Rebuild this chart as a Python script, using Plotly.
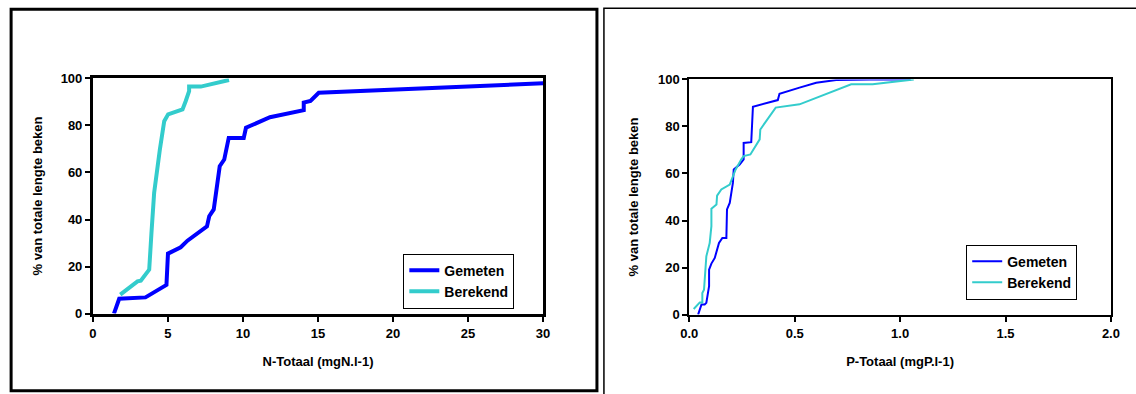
import plotly.graph_objects as go

W, H = 1136, 394
# The captured page (with the 8px body margin) is slightly larger than the window;
# map reference pixel positions into figure coordinates accordingly.
SX, SY, OFF = 1152 / 1136, 410 / 394, 8

# Left chart: N-Totaal
n_gemeten_x = [1.4, 1.75, 3.5, 4.9, 5.0, 5.85, 6.3, 7.6, 7.75, 8.05, 8.45, 8.75, 9.05, 10.05, 10.2, 11.8, 14.05, 14.05, 14.5, 15.05, 30]
n_gemeten_y = [0, 6.3, 6.9, 12.2, 25.5, 28.2, 31, 37.1, 41.4, 44.3, 62.7, 65.5, 74.7, 74.7, 79, 83.5, 86.5, 89.7, 90.4, 93.9, 97.9]
n_berekend_x = [1.82, 2.97, 3.19, 3.64, 3.75, 3.9, 4.08, 4.46, 4.68, 4.75, 5.01, 5.97, 6.18, 6.41, 6.41, 7.19, 9.07]
n_berekend_y = [8.1, 13.7, 14.0, 18, 18.7, 34.3, 51.4, 69.8, 77.6, 81.8, 84.7, 86.8, 90.3, 94.6, 96.5, 96.5, 99.3]

# Right chart: P-Totaal
p_gemeten_x = [0.042, 0.058, 0.073, 0.081, 0.094, 0.094, 0.105, 0.121, 0.141, 0.157, 0.176, 0.179, 0.192, 0.207, 0.211, 0.239, 0.258, 0.258, 0.294, 0.302, 0.42, 0.428, 0.523, 0.602, 0.697, 0.854, 1.05]
p_gemeten_y = [0, 4.3, 4.3, 5.0, 12.1, 19.1, 21.7, 24.1, 30.5, 32.6, 32.6, 44.7, 47.5, 56, 61.7, 63.8, 66, 73, 73.3, 88.4, 91.2, 93.9, 96.5, 98.6, 99.7, 100, 100]
p_berekend_x = [0.021, 0.05, 0.062, 0.062, 0.07, 0.078, 0.081, 0.097, 0.105, 0.105, 0.129, 0.132, 0.152, 0.192, 0.22, 0.247, 0.258, 0.29, 0.334, 0.337, 0.41, 0.523, 0.768, 0.87, 1.065]
p_berekend_y = [2.4, 5.2, 5.2, 9.2, 10.6, 19.1, 24.8, 30.5, 37.6, 45, 46.8, 50.6, 53.2, 55.3, 61.7, 66, 67.4, 68.1, 74.5, 78.7, 88, 89.4, 97.9, 97.9, 100]

y_ticks = [0, 20, 40, 60, 80, 100]
n_ticks = [0, 5, 10, 15, 20, 25, 30]
p_ticks = [0.0, 0.5, 1.0, 1.5, 2.0]

BLUE = "#0000FF"
CYAN = "#33CCCC"
FONT = "Liberation Sans"

fig = go.Figure()
fig.add_trace(go.Scatter(x=n_gemeten_x, y=n_gemeten_y, mode="lines", name="<b>Gemeten</b>",
                         line=dict(color=BLUE, width=4), xaxis="x", yaxis="y", legend="legend"))
fig.add_trace(go.Scatter(x=n_berekend_x, y=n_berekend_y, mode="lines", name="<b>Berekend</b>",
                         line=dict(color=CYAN, width=4), xaxis="x", yaxis="y", legend="legend"))
fig.add_trace(go.Scatter(x=p_gemeten_x, y=p_gemeten_y, mode="lines", name="<b>Gemeten</b>",
                         line=dict(color=BLUE, width=2), xaxis="x2", yaxis="y2", legend="legend2"))
fig.add_trace(go.Scatter(x=p_berekend_x, y=p_berekend_y, mode="lines", name="<b>Berekend</b>",
                         line=dict(color=CYAN, width=2), xaxis="x2", yaxis="y2", legend="legend2"))

def px(x):
    return (x * SX - OFF) / W

def py(y):
    return 1 - (y * SY - OFF) / H

tickfont = dict(family=FONT, size=13, color="black")

def xaxis(domain, anchor, rng, ticks, fmt, lw, title):
    return dict(domain=domain, anchor=anchor, range=rng, tickvals=ticks,
                ticktext=[("<b>" + fmt.format(t) + "</b>") for t in ticks],
                showline=True, linecolor="black", linewidth=lw, mirror=True,
                ticks="outside", ticklen=5, tickwidth=1.5, tickcolor="black",
                ticklabelstandoff=1,
                showgrid=False, zeroline=False, tickfont=tickfont,
                title=dict(text="<b>" + title + "</b>", font=dict(family=FONT, size=13, color="black"), standoff=17))

def yaxis(domain, anchor, lw):
    return dict(domain=domain, anchor=anchor, range=[0, 100], tickvals=y_ticks,
                ticktext=["<b>%d</b>" % t for t in y_ticks],
                showline=True, linecolor="black", linewidth=lw, mirror=True,
                ticks="outside", ticklen=5, tickwidth=1.5, tickcolor="black",
                showgrid=False, zeroline=False, tickfont=tickfont,
                title=dict(text="<b>% van totale lengte beken</b>", font=dict(family=FONT, size=13, color="black"), standoff=16))

fig.update_layout(
    width=W, height=H,
    margin=dict(l=0, r=0, t=0, b=0),
    paper_bgcolor="white", plot_bgcolor="white",
    font=dict(family=FONT, size=13, color="black"),
    xaxis=xaxis([px(92), px(543)], "y", [0, 30], n_ticks, "{:d}", 3, "N-Totaal (mgN.l-1)"),
    yaxis=yaxis([py(314), py(79)], "x", 3),
    xaxis2=xaxis([px(689.5), px(1112)], "y2", [0, 2], p_ticks, "{:.1f}", 2, "P-Totaal (mgP.l-1)"),
    yaxis2=yaxis([py(315), py(80)], "x2", 2),
    legend=dict(x=px(403), y=py(254), xanchor="left", yanchor="top",
                bordercolor="black", borderwidth=1, bgcolor="white",
                font=dict(family=FONT, size=14, color="black"), tracegroupgap=0),
    legend2=dict(x=px(967), y=py(245), xanchor="left", yanchor="top",
                 bordercolor="black", borderwidth=1, bgcolor="white",
                 font=dict(family=FONT, size=14, color="black"), tracegroupgap=0),
    showlegend=True,
    shapes=[
        dict(type="rect", xref="paper", yref="paper", x0=px(10), x1=px(597), y0=py(391), y1=py(10),
             line=dict(color="black", width=3)),
        dict(type="rect", xref="paper", yref="paper", x0=px(604), x1=1.02, y0=-0.05, y1=py(9),
             line=dict(color="black", width=1.5)),
    ],
)

fig.write_html("out.html")
